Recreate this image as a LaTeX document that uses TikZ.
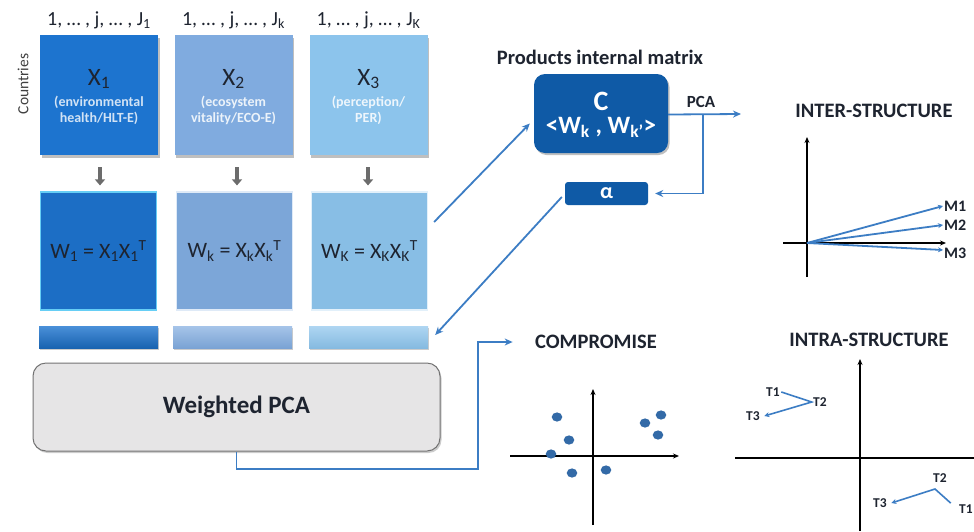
\documentclass[tikz,border=0pt]{standalone}
\usepackage{fontspec}
\setmainfont{Carlito}
\usetikzlibrary{arrows.meta,shadows,calc}
\definecolor{xone}{HTML}{1D74CF}
\definecolor{xtwo}{HTML}{80ABDF}
\definecolor{xthree}{HTML}{8CC4EC}
\definecolor{navy}{HTML}{0F5AA6}
\definecolor{conn}{HTML}{3C7DC4}
\definecolor{pcagray}{HTML}{E6E5E6}
\definecolor{txtdark}{HTML}{1E2430}
\newcommand\fs[1]{\fontsize{#1}{#1}\selectfont}
\begin{document}
\begin{tikzpicture}[x=1pt,y=-1pt,
  xbox/.style={rectangle, minimum width=118pt, minimum height=120pt, inner sep=0pt,
    drop shadow={shadow xshift=1.5pt, shadow yshift=-3pt, opacity=0.25, fill=black}},
  xlab/.style={font=\fs{25}, text=txtdark},
  sub/.style={font=\fontsize{14}{16}\selectfont\bfseries, align=center},
  wbox/.style={rectangle, minimum width=116pt, minimum height=118pt, inner sep=0pt, line width=1.2pt, text=txtdark, font=\fs{22}},
  bar/.style={rectangle, minimum width=119pt, minimum height=22pt, inner sep=0pt,
    drop shadow={shadow xshift=1pt, shadow yshift=-2pt, opacity=0.2, fill=black}},
  toplab/.style={font=\fs{20}, text=txtdark},
  grayarrow/.style={draw=gray!85!black, line width=4pt, -{Triangle[width=10pt,length=6pt]}, shorten <=12pt, shorten >=6pt},
  connline/.style={draw=conn, line width=1.8pt},
  conarr/.style={connline, -{Stealth[length=8pt,width=7pt]}},
  title/.style={font=\fs{20.5}\bfseries, text=txtdark},
  axis/.style={draw=black, line width=1.6pt},
  axarr/.style={axis, -{Stealth[length=6pt,width=5pt]}},
  vec/.style={draw=conn, line width=1.8pt, -{Stealth[length=5pt,width=5pt]}},
  tlab/.style={font=\fs{13.5}\bfseries, text=txtdark},
  mlab/.style={font=\fs{16}\bfseries, text=txtdark, anchor=west, inner sep=1pt},
  dot/.style={fill=conn!85!black}
]
\fill[white] (0,0) rectangle (974,531);
\useasboundingbox (0,0) rectangle (974,531);

% column labels
\node[toplab] (l1) at (99,20) {1, … , j, … , J\textsubscript{1}};
\node[toplab] (l2) at (233.5,20) {1, … , j, … , J\textsubscript{k}};
\node[toplab] (l3) at (368.5,20) {1, … , j, … , J\textsubscript{K}};
\node[font=\fs{15.5}, text=black!75, rotate=90] (ctry) at (23,84) {Countries};

% X boxes
\node[xbox, fill=xone] (x1) at (99,95) {};
\node[xbox, fill=xtwo] (x2) at (233.5,95) {};
\node[xbox, fill=xthree] (x3) at (368.5,95) {};
\node[xlab] (x1l) at ($(x1)+(0,-16)$) {X\textsubscript{1}};
\node[xlab] (x2l) at ($(x2)+(0,-16)$) {X\textsubscript{2}};
\node[xlab] (x3l) at ($(x3)+(0,-16)$) {X\textsubscript{3}};
\node[sub, text=white!80!xone] (x1s) at ($(x1)+(0,15)$) {(environmental\\health/HLT-E)};
\node[sub, text=white!85!xtwo] (x2s) at ($(x2)+(0,15)$) {(ecosystem\\vitality/ECO-E)};
\node[sub, text=white!85!xthree] (x3s) at ($(x3)+(0,15)$) {(perception/\\PER)};

% W boxes
\node[wbox, fill=xone!95!black, draw=cyan!60!white] (w1) at (98.5,251) {W\textsubscript{1} = X\textsubscript{1}X\textsubscript{1}\textsuperscript{T}};
\node[wbox, fill=xtwo!97!black, draw=white!75!xtwo] (w2) at (234.5,251) {W\textsubscript{k} = X\textsubscript{k}X\textsubscript{k}\textsuperscript{T}};
\node[wbox, fill=xthree!97!black, draw=white!75!xthree] (w3) at (369.5,251) {W\textsubscript{K} = X\textsubscript{K}X\textsubscript{K}\textsuperscript{T}};

% gray arrows
\draw[grayarrow] (x1.south -| 100,0) -- (w1.north -| 100,0);
\draw[grayarrow] (x2.south -| 237,0) -- (w2.north -| 237,0);
\draw[grayarrow] (x3.south -| 368,0) -- (w3.north -| 368,0);

% thin bars
\node[bar, top color=xone!80!white, bottom color=xone!85!black] (b1) at (98.5,337) {};
\node[bar, top color=xtwo!70!white, bottom color=xtwo!95!black] (b2) at (232.5,337) {};
\node[bar, top color=xthree!70!white, bottom color=xthree!95!black] (b3) at (368.5,337) {};

% Weighted PCA
\node[rectangle, rounded corners=13pt, minimum width=407pt, minimum height=88pt, fill=pcagray, draw=black!55, line width=1pt,
  drop shadow={shadow xshift=1.5pt, shadow yshift=-2pt, opacity=0.2, fill=black},
  font=\fs{25}\bfseries, text=txtdark] (wpca) at (236.5,407) {Weighted PCA};

% C box and alpha
\node[title] (pim) at (600,57) {Products internal matrix};
\node[rectangle, rounded corners=11pt, minimum width=134pt, minimum height=79pt, fill=navy,
  drop shadow={shadow xshift=1.5pt, shadow yshift=-2pt, opacity=0.25, fill=black}] (cbox) at (601,113.5) {};
\node[font=\fs{28}\bfseries, text=white, inner sep=0pt] (cl) at ($(cbox)+(0,-12)$) {C};
\node[font=\fs{25}\bfseries, text=white, inner sep=0pt] (cw) at ($(cbox)+(0,14)$) {<W\textsubscript{k} , W\textsubscript{k'}>};
\node[rectangle, rounded corners=3pt, minimum width=83pt, minimum height=23pt, inner sep=0pt, fill=navy, text=white, font=\fs{22}\bfseries] (alpha) at (606.5,193.5) {α};

% PCA connector
\node[font=\fs{17}\bfseries, text=txtdark] (pcal) at (701,102) {PCA};
\coordinate (pcaend) at (741,114);
\coordinate (pcabr) at (703,114);
\draw[conarr] ([yshift=-1pt]cbox.east) -- (pcaend);
\draw[conarr, shorten >=7pt] (pcabr) |- (alpha.east);

% diagonal arrows
\draw[conarr] ([xshift=6pt,yshift=29pt]w3.east) -- ([xshift=-4pt,yshift=-10pt]cbox.west);
\draw[conarr] ([xshift=-3pt,yshift=-3.5pt]alpha.west) -- ([xshift=7pt,yshift=2pt]b3.east);

% compromise connector
\node[title] (comp) at (596,342) {COMPROMISE};
\coordinate (cturn) at (478,469);
\draw[conarr] (wpca.south) |- (cturn) |- ([xshift=-19pt]comp.west);

% INTER-STRUCTURE
\node[title] (inter) at (874,111) {INTER-STRUCTURE};
\coordinate (io) at (807,243);
\draw[axarr] (783,243) -- (946,243);
\draw[axarr] (807,277) -- (807,137);
\node[mlab] (m1) at (943,206) {M1};
\node[mlab] (m2) at (943,225) {M2};
\node[mlab] (m3) at (943,253) {M3};
\draw[vec] (io) -- (m1.west);
\draw[vec] (io) -- (m2.west);
\draw[vec] (io) -- ([yshift=3pt]m3.west);

% COMPROMISE plot
\draw[axarr] (510,456) -- (679,456);
\draw[axarr] (593,525) -- (593,389);
\foreach \p in {(557,417),(569,440),(551,454),(572,473),(606,470),(645,423),(661,415),(658,435)}
  \fill[dot] \p ellipse [x radius=5.3pt, y radius=4.6pt];

% INTRA-STRUCTURE
\node[title] (intra) at (869,340) {INTRA-STRUCTURE};
\draw[axis] (735,458) -- (974,458);
\draw[axarr] (860,531) -- (860,359);
\node[tlab] (t1a) at (773,392) {T1};
\node[tlab] (t2a) at (820,402) {T2};
\node[tlab] (t3a) at (753,416) {T3};
\draw[vec, line width=1.6pt] ([xshift=-2pt]t1a.east) -- ([xshift=2pt]t2a.west) -- ([xshift=1pt]t3a.east);
\node[tlab] (t2b) at (940,478) {T2};
\node[tlab] (t1b) at (966,509) {T1};
\node[tlab] (t3b) at (880,503) {T3};
\coordinate (t2bend) at (935,489);
\draw[vec, line width=1.6pt] ([xshift=-5pt,yshift=-2pt]t1b.north west) -- (t2bend) -- ([xshift=1pt]t3b.east);
\end{tikzpicture}
\end{document}
